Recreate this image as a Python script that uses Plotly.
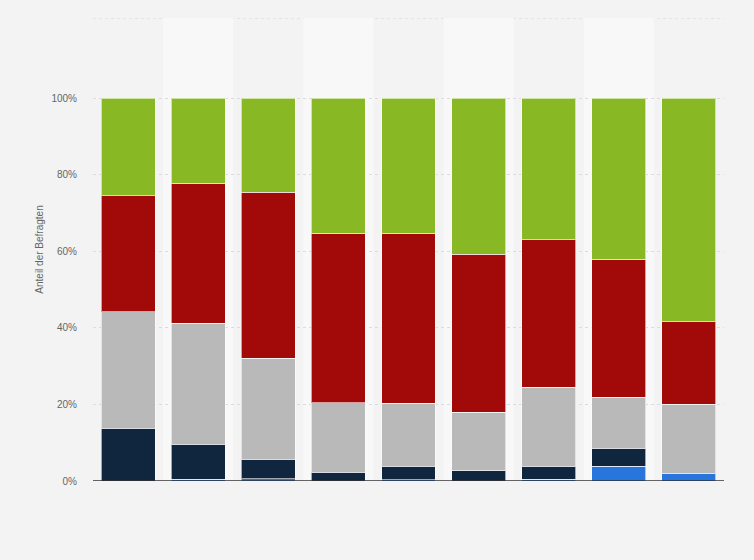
"""
Stacked 100% bar chart: share of respondents per answer category.
"""
import plotly.graph_objects as go

# Data (percent of respondents)
groups = ["1", "2", "3", "4", "5", "6", "7", "8", "9"]
series_names = ["Kategorie 1", "Kategorie 2", "Kategorie 3", "Kategorie 4", "Kategorie 5"]
blue_vals = [0.0, 0.5, 0.6, 0.0, 0.3, 0.0, 0.5, 3.8, 1.9]
navy_vals = [13.8, 9.1, 5.1, 2.3, 3.5, 2.7, 3.3, 4.7, 0.0]
gray_vals = [30.4, 31.6, 26.4, 18.2, 16.5, 15.3, 20.7, 13.4, 18.1]
red_vals = [30.3, 36.6, 43.4, 44.3, 44.5, 41.3, 38.5, 36.1, 21.6]
green_vals = [25.5, 22.2, 24.5, 35.2, 35.2, 40.7, 37.0, 42.0, 58.4]
y_ticks = [0, 20, 40, 60, 80, 100]
y_tick_labels = ["0%", "20%", "40%", "60%", "80%", "100%"]

colors = ["#2876dd", "#0f263e", "#b9b9b9", "#a20a0a", "#88b824"]
y_max = 121

fig = go.Figure()

for name, vals, color in zip(series_names,
                             [blue_vals, navy_vals, gray_vals, red_vals, green_vals],
                             colors):
    fig.add_trace(go.Bar(
        x=groups,
        y=vals,
        name=name,
        marker=dict(color=color, line=dict(color="rgba(255,255,255,0.6)", width=1)),
        hovertemplate="%{y:.1f}%<extra>" + name + "</extra>",
    ))

# Alternating column bands behind the bars
for i, g in enumerate(groups):
    if i % 2 == 1:
        fig.add_shape(type="rect", xref="x", yref="y",
                      x0=i - 0.5, x1=i + 0.5, y0=0, y1=y_max,
                      fillcolor="#f8f8f8", line_width=0, layer="below")

# Dotted top border line
fig.add_shape(type="line", xref="paper", yref="y", x0=0, x1=1, y0=y_max, y1=y_max,
              line=dict(color="#d6d6d6", width=1, dash="dot"), layer="below")

fig.update_layout(
    barmode="stack",
    bargap=0.23,
    width=754,
    height=560,
    showlegend=False,
    paper_bgcolor="#f3f3f3",
    plot_bgcolor="#f3f3f3",
    margin=dict(l=93, r=30, t=18, b=79),
    font=dict(family="Liberation Sans, Arial, sans-serif", size=10, color="#666666"),
    xaxis=dict(
        showticklabels=False,
        showgrid=False,
        zeroline=False,
        ticks="",
        range=[-0.5, len(groups) - 0.5],
    ),
    yaxis=dict(
        range=[0, y_max],
        tickvals=y_ticks,
        ticktext=y_tick_labels,
        showgrid=True,
        gridcolor="#dcdcdc",
        griddash="dot",
        gridwidth=1,
        zeroline=False,
        ticks="",
        ticklabelstandoff=15,
        tickfont=dict(size=10, color="#666666"),
        title=dict(text="Anteil der Befragten", font=dict(size=10, color="#666666"), standoff=5),
    ),
)

# Baseline at 0%
fig.add_shape(type="line", xref="paper", yref="y", x0=0, x1=1, y0=0, y1=0,
              line=dict(color="#333333", width=1.5))

# Drop the default page margin so the chart fills the window
fig.write_html("out.html", config={"displayModeBar": False},
               post_script="document.body.style.margin='0';")
